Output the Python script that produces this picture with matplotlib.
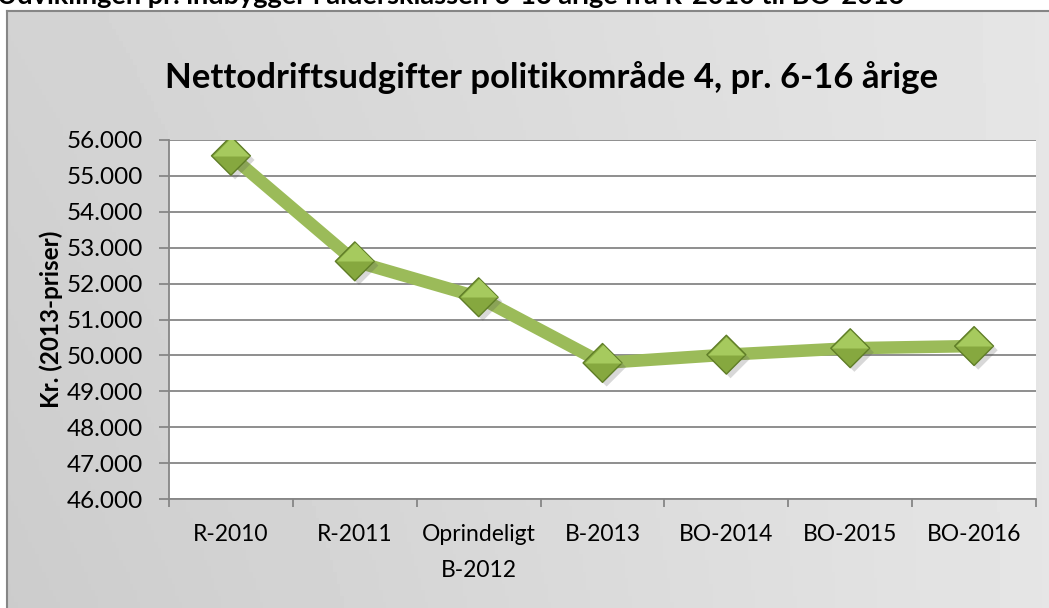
import numpy as np
import matplotlib
matplotlib.use("Agg")
import matplotlib.pyplot as plt
from matplotlib.path import Path
import matplotlib.patheffects as pe
from matplotlib.ticker import FuncFormatter, FixedLocator

plt.rcParams['font.family'] = ['Lato', 'DejaVu Sans']

categories = ["R-2010", "R-2011", "Oprindeligt\nB-2012", "B-2013", "BO-2014", "BO-2015", "BO-2016"]
values = [55560, 52620, 51620, 49790, 50020, 50200, 50260]
yticks = [46000, 47000, 48000, 49000, 50000, 51000, 52000, 53000, 54000, 55000, 56000]
title = "Nettodriftsudgifter politikområde 4, pr. 6-16 årige"
ylabel = "Kr. (2013-priser)"
top_text = "Udviklingen pr. indbygger i aldersklassen 6-16 årige fra R-2010 til BO-2016"

W, H = 1049, 608
fig = plt.figure(figsize=(W / 100, H / 100), dpi=100)
fig.patch.set_facecolor("white")

# chart background with gradient
bx0, by1 = 7, 11
bg = fig.add_axes([bx0 / W, 0, 1 - bx0 / W + 0.01, 1 - by1 / H], zorder=0)
gx = np.linspace(0, 1, 300)
gy = np.linspace(0, 1, 100)
GX, GY = np.meshgrid(gx, gy)
shade = 0.80 + 0.10 * GX + 0.025 * (1 - GY) * (1 - GX)
bg.imshow(shade, cmap="gray", vmin=0, vmax=1, aspect="auto", extent=[0, 1, 0, 1], origin="upper")
bg.set_xlim(0, 1)
bg.set_ylim(0, 1)
bg.set_xticks([])
bg.set_yticks([])
for s in ["right", "bottom"]:
    bg.spines[s].set_visible(False)
for s in ["left", "top"]:
    bg.spines[s].set_color("#868686")
    bg.spines[s].set_linewidth(1.5)

# plot area
L, R, T, B = 169, 1036, 140, 499
ax = fig.add_axes([L / W, 1 - B / H, (R - L) / W, (B - T) / H], zorder=1)
ax.set_facecolor("white")
x = np.arange(len(categories))
ax.set_xlim(-0.5, len(categories) - 0.5)
ax.set_ylim(46000, 56000)

ax.yaxis.set_major_locator(FixedLocator(yticks))
ax.yaxis.set_major_formatter(FuncFormatter(lambda v, p: f"{int(v):,}".replace(",", ".")))
ax.grid(axis="y", color="#868686", linewidth=1.3)
ax.set_axisbelow(True)

ax.set_xticks(np.arange(len(categories) + 1) - 0.5)
ax.set_xticklabels([])
ax.set_xticks(x, minor=True)
ax.set_xticklabels(categories, minor=True, fontsize=16.5, linespacing=1.9)
ax.tick_params(axis="x", which="minor", length=0, pad=18)
ax.tick_params(axis="x", which="major", length=6, color="#868686", width=1.3, direction="out")
ax.tick_params(axis="y", length=7, color="#868686", width=1.3, labelsize=17.5, pad=12)
for s in ["top", "right"]:
    ax.spines[s].set_visible(False)
for s in ["left", "bottom"]:
    ax.spines[s].set_color("#868686")
    ax.spines[s].set_linewidth(1.3)

ax.set_ylabel(ylabel, fontsize=17.5, fontweight="bold", labelpad=2)

# line
ax.plot(x, values, color="#9bbb59", linewidth=9, solid_capstyle="butt", zorder=3)

diamond = Path([(0, 1), (1, 0), (0, -1), (-1, 0), (0, 1)],
               [Path.MOVETO, Path.LINETO, Path.LINETO, Path.LINETO, Path.CLOSEPOLY])
upper = Path([(-1, 0), (0, 1), (1, 0), (-1, 0)],
             [Path.MOVETO, Path.LINETO, Path.LINETO, Path.CLOSEPOLY])
ms = 28
ax.plot(x, values, linestyle="none", marker=diamond, markersize=ms,
        markerfacecolor="#86a83f", markeredgecolor="#5f7d27", markeredgewidth=1.0,
        zorder=4,
        path_effects=[pe.SimplePatchShadow(offset=(3, -3), shadow_rgbFace="#505050", alpha=0.22),
                      pe.Normal()])
ax.plot(x, values, linestyle="none", marker=upper, markersize=ms - 1.5,
        markerfacecolor="#a6ca5e", markeredgecolor="none", zorder=5)

fig.text(552 / W, 1 - 78 / H, title, ha="center", va="center", fontsize=25, fontweight="bold")
fig.text(-0.003, 1 - 4 / H, top_text, ha="left", va="baseline", fontsize=19.5, fontweight="bold", zorder=10)

fig.savefig("out.png", dpi=100)
